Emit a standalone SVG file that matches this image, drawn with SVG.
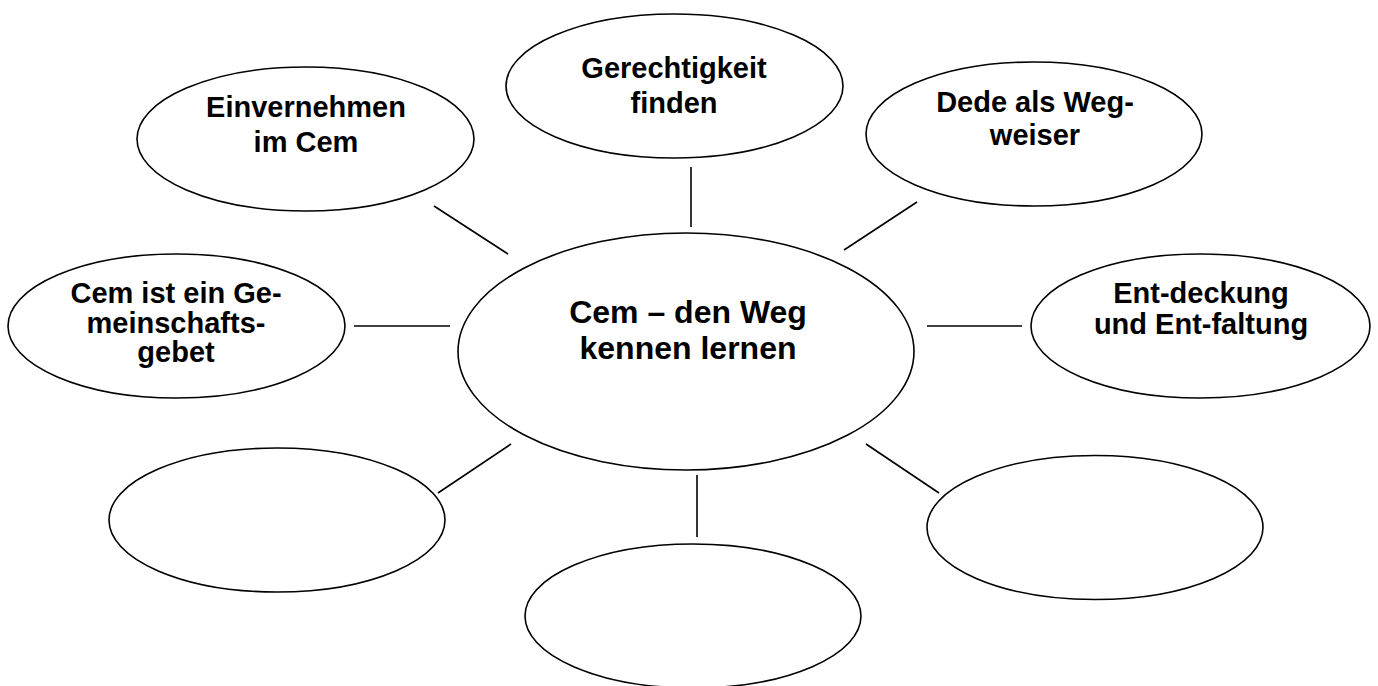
<svg xmlns="http://www.w3.org/2000/svg" width="1378" height="686" viewBox="0 0 1378 686">
<style>
.n{fill:#fff;stroke:#000;stroke-width:1.6}
.c line{stroke:#000;stroke-width:1.6}
text{font-family:"Liberation Sans",Arial,sans-serif;font-weight:bold;font-size:29px;text-anchor:middle;fill:#000}
.big{font-size:32px}
</style>
<rect width="1378" height="686" fill="#fff"/>
<g class="c" id="connectors">
<line x1="434" y1="206" x2="508" y2="254"/>
<line x1="691" y1="167" x2="691" y2="227"/>
<line x1="917" y1="202" x2="844" y2="250"/>
<line x1="354" y1="326" x2="450" y2="326"/>
<line x1="927" y1="326" x2="1022" y2="326"/>
<line x1="511" y1="444" x2="438" y2="493"/>
<line x1="697" y1="475" x2="697" y2="537"/>
<line x1="866" y1="444" x2="939" y2="493"/>
</g>
<g id="center"><ellipse class="n" cx="686" cy="351.5" rx="228" ry="118.5"/>
<text class="big" x="688" y="323">Cem – den Weg</text><text class="big" x="688" y="359">kennen lernen</text></g>
<g id="n-einvernehmen"><ellipse class="n" cx="305.5" cy="139" rx="168.5" ry="72"/>
<text x="306" y="117">Einvernehmen</text><text x="306" y="152">im Cem</text></g>
<g id="n-gerechtigkeit"><ellipse class="n" cx="674.5" cy="86" rx="168.5" ry="72"/>
<text x="674" y="78">Gerechtigkeit</text><text x="674" y="113">finden</text></g>
<g id="n-dede"><ellipse class="n" cx="1034" cy="134" rx="168" ry="72"/>
<text x="1035" y="112">Dede als Weg-</text><text x="1035" y="145">weiser</text></g>
<g id="n-gemeinschaft"><ellipse class="n" cx="176.5" cy="326" rx="168.5" ry="72"/>
<text x="176" y="303">Cem ist ein Ge-</text><text x="176" y="333">meinschafts-</text><text x="176" y="362">gebet</text></g>
<g id="n-entdeckung"><ellipse class="n" cx="1200.5" cy="326" rx="169.5" ry="72"/>
<text x="1201" y="303">Ent-deckung</text><text x="1201" y="334">und Ent-faltung</text></g>
<g id="n-empty-left"><ellipse class="n" cx="277" cy="520" rx="168" ry="72"/></g>
<g id="n-empty-bottom"><ellipse class="n" cx="693" cy="616" rx="168" ry="72"/></g>
<g id="n-empty-right"><ellipse class="n" cx="1095" cy="527.5" rx="168" ry="72"/></g>
</svg>
